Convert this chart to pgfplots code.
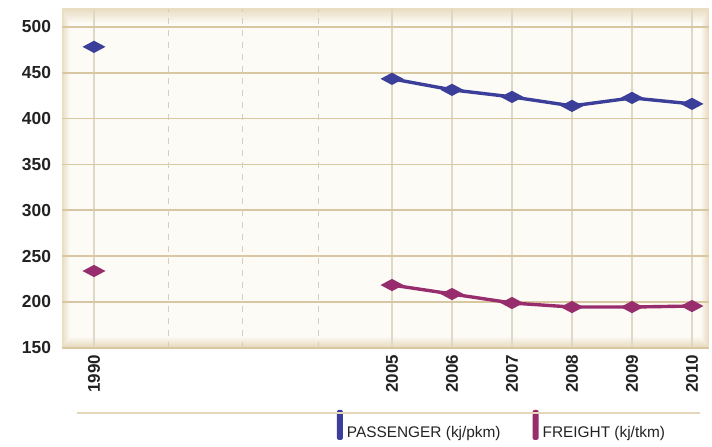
\documentclass[border=0pt]{standalone}
\usepackage{fontspec}
\setmainfont{Liberation Sans}
\usepackage{pgfplots}
\pgfplotsset{compat=1.18}
\definecolor{pass}{HTML}{3B3F99}
\definecolor{frt}{HTML}{982D6D}
\definecolor{tan}{HTML}{D8C7A0}
\definecolor{beige}{HTML}{E9DDC2}
\definecolor{cream}{HTML}{FDFBF6}
\definecolor{vgrid}{HTML}{E0D8C6}
\definecolor{lbl}{HTML}{222222}
\begin{document}
\begin{tikzpicture}[x=0.5pt,y=0.5pt]
\useasboundingbox (0,0) rectangle (712,446);
\foreach \i in {0,...,10}{%
  \pgfmathsetmacro\p{100-\i*10}%
  \fill[beige!\p!cream] (62+\i*0.8, 99+\i*1.0) rectangle (709-\i*0.8, 438-\i*1.5);
}
\begin{axis}[
  at={(62,107)}, anchor=south west,
  scale only axis, width=323.5pt, height=169.5pt,
  xmin=62, xmax=709, ymin=150, ymax=519.6,
  axis line style={draw=none},
  tick style={draw=none},
  major tick length=0pt,
  /pgf/number format/assume math mode=true,
  xtick={94,392,452,512,572,632,692},
  xticklabels={1990,2005,2006,2007,2008,2009,2010},
  x tick label style={rotate=90, anchor=east, font=\fontsize{8.5}{10}\selectfont\bfseries, text=lbl},
  y tick label style={font=\fontsize{8.7}{10}\selectfont\bfseries, text=lbl, xshift=-2pt},
  ytick={150,200,...,500},
  xmajorgrids, ymajorgrids,
  major x grid style={draw=vgrid, line width=0.6pt},
  major y grid style={draw=tan, line width=0.9pt},
  extra x ticks={168,242,318},
  extra x tick labels={},
  extra x tick style={xmajorgrids=true, major x grid style={draw=vgrid!90!gray, line width=0.5pt, dash pattern=on 3pt off 3pt}},
  unbounded coords=jump,
  clip=false,
  legend style={at={(axis description cs:0.415,-0.17)}, anchor=north west, draw=none, fill=none,
    font=\fontsize{7.7}{9}\selectfont, text=lbl, legend columns=2,
    /tikz/every even column/.append style={column sep=14pt}},
  legend image code/.code={\fill[#1, draw=none, rounded corners=1pt] (0pt,-3pt) rectangle (3pt,12pt);},
]
\addplot[color=pass, line width=1.7pt, mark=diamond*, mark size=2.1pt, mark options={xscale=2.5, solid}]
  coordinates {(94,478.2) (200,nan) (392,443.3) (452,431.3) (512,423.6) (572,413.8) (632,422.5) (692,416.0)};
\addlegendentry{PASSENGER (kj/pkm)}
\addplot[color=frt, line width=1.7pt, mark=diamond*, mark size=2.1pt, mark options={xscale=2.5, solid}]
  coordinates {(94,233.8) (200,nan) (392,218.5) (452,208.7) (512,198.9) (572,194.5) (632,194.5) (692,195.6)};
\addlegendentry{FREIGHT (kj/tkm)}
\end{axis}
\draw[beige!70!tan, line width=1.2pt] (77,33) -- (700,33);
\end{tikzpicture}
\end{document}
